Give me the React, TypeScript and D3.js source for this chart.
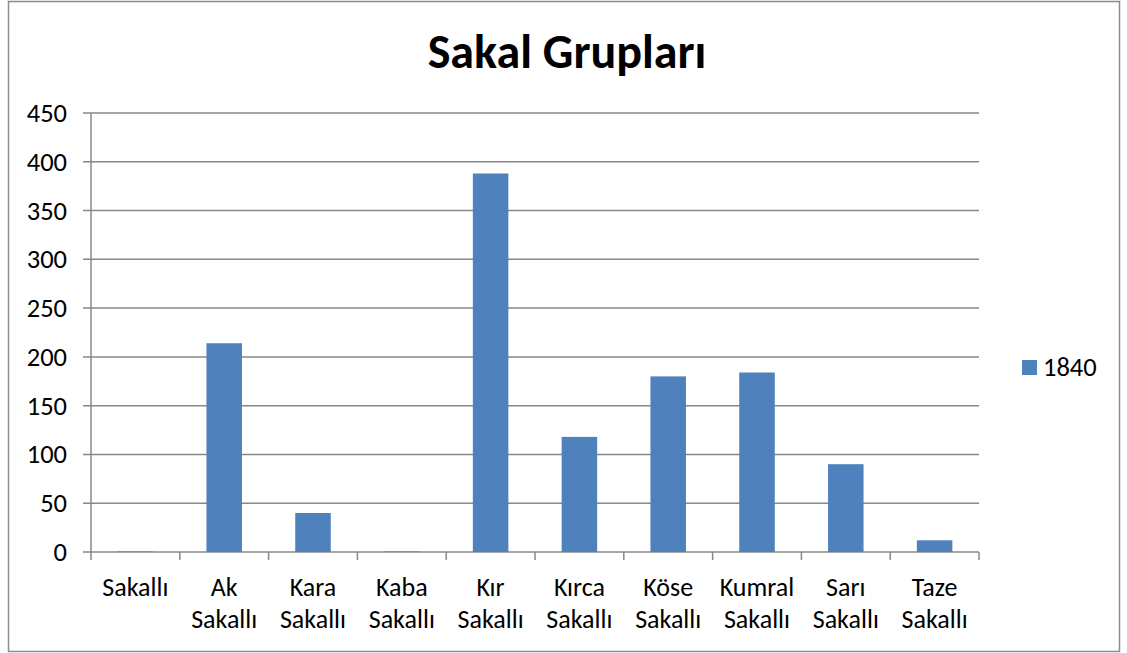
import React from 'react';
import * as d3 from 'd3';

const categories = ['Sakallı', 'Ak Sakallı', 'Kara Sakallı', 'Kaba Sakallı', 'Kır Sakallı', 'Kırca Sakallı', 'Köse Sakallı', 'Kumral Sakallı', 'Sarı Sakallı', 'Taze Sakallı'];
const values1840 = [0.5, 214, 40, 0.5, 388, 118, 180, 184, 90, 12];
const yTicks = [0, 50, 100, 150, 200, 250, 300, 350, 400, 450];
const seriesName = '1840';
const title = 'Sakal Grupları';

const W = 1127;
const H = 653;
const font = "Calibri, Carlito, 'Open Sans', 'Liberation Sans', sans-serif";

export default function App() {
  const left = 91, right = 979, top = 113, bottom = 552;

  const x = d3.scaleBand<string>()
    .domain(categories)
    .range([left, right])
    .paddingInner(0.6)
    .paddingOuter(0.3);

  const y = d3.scaleLinear().domain([0, 450]).range([bottom, top]);

  const step = (right - left) / categories.length;

  return (
    <svg width={W} height={H} style={{ position: 'absolute', left: 0, top: 0, background: '#fff' }}>
      <rect x={8.5} y={1.5} width={1111} height={650} fill="#fff" stroke="#8c8c8c" strokeWidth={1.5} />
      <text x={567} y={68} textAnchor="middle" fontFamily={font} fontWeight="bold" fontSize={48} fill="#000">{title}</text>

      {yTicks.map((t) => (
        <g key={t}>
          <line x1={83} x2={right} y1={y(t)} y2={y(t)} stroke="#888" strokeWidth={1.5} />
          <text x={67} y={y(t) + 9} textAnchor="end" fontFamily={font} fontSize={26.5} fill="#000">{t}</text>
        </g>
      ))}
      <line x1={left} x2={left} y1={top} y2={bottom} stroke="#888" strokeWidth={1.5} />

      {d3.range(categories.length + 1).map((i) => (
        <line key={i} x1={left + i * step} x2={left + i * step} y1={bottom} y2={bottom + 8} stroke="#888" strokeWidth={1.5} />
      ))}

      {categories.map((c, i) => (
        <rect key={c} x={x(c)} y={y(values1840[i])} width={x.bandwidth()} height={bottom - y(values1840[i])} fill="#4f81bd" />
      ))}

      {categories.map((c) => {
        const words = c.split(' ');
        const cx = (x(c) as number) + x.bandwidth() / 2;
        return (
          <text key={c} textAnchor="middle" fontFamily={font} fontSize={26} fill="#000">
            {words.map((w, j) => (
              <tspan key={j} x={cx} y={596 + j * 32}>{w}</tspan>
            ))}
          </text>
        );
      })}

      <rect x={1022} y={360} width={15} height={15} fill="#4f81bd" />
      <text x={1043} y={376} fontFamily={font} fontSize={26.5} fill="#000">{seriesName}</text>
    </svg>
  );
}
